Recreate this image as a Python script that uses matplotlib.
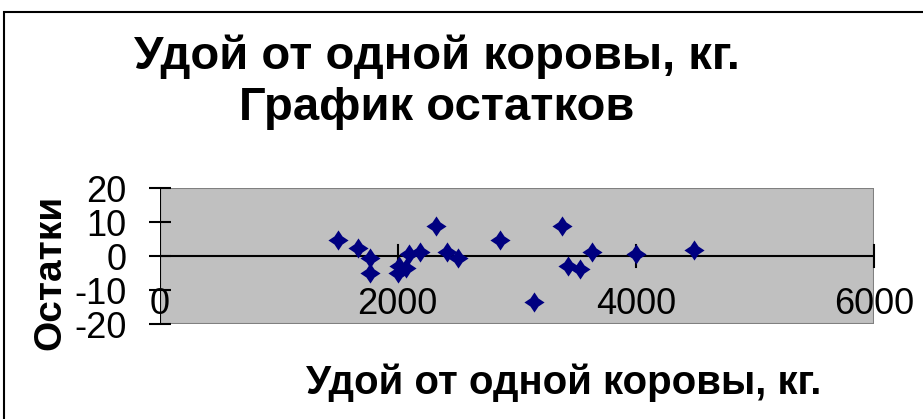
import matplotlib
matplotlib.use("Agg")
import matplotlib.pyplot as plt
from matplotlib.path import Path
from matplotlib.patches import Rectangle

plt.rcParams['font.family'] = ['Liberation Sans', 'DejaVu Sans']

# Milk yield per cow (kg) and regression residuals
yield_kg = [1498, 1667, 1770, 1770, 2000, 2014, 2073, 2093, 2185, 2323,
            2416, 2505, 2858, 3144, 3380, 3430, 3531, 3632, 4000, 4491]
residuals = [4.6, 2.4, -0.5, -4.9, -4.9, -3.0, -3.6, 0.7, 1.2, 8.8,
             1.2, -0.5, 4.6, -13.5, 8.8, -3.0, -3.7, 1.1, 0.5, 1.7]

x_ticks = [0, 2000, 4000, 6000]
x_tick_labels = ['0', '2000', '4000', '6000']
y_ticks = [-20, -10, 0, 10, 20]
y_tick_labels = ['-20', '-10', '0', '10', '20']

title = 'Удой от одной коровы, кг.\nГрафик остатков'
x_label = 'Удой от одной коровы, кг.'
y_label = 'Остатки'

W, H = 923, 419
fig = plt.figure(figsize=(W / 100, H / 100), dpi=100)

# outer chart frame (runs off the right and bottom edges)
fig.patches.append(Rectangle((4 / W, -0.05), 1.2, 1 - 12 / H + 0.05,
                             transform=fig.transFigure, fill=False,
                             edgecolor='black', linewidth=1.5))

ax = fig.add_axes([159.6 / W, 1 - 324 / H, (874 - 159.6) / W, (324 - 188) / H])
ax.set_facecolor('#C0C0C0')
for s in ('top', 'right', 'bottom', 'left'):
    ax.spines[s].set_visible(False)

ax.set_xlim(0, 6000)
ax.set_ylim(-20, 20)

# plot-area border
ax.add_patch(Rectangle((0, 0), 1, 1, transform=ax.transAxes, fill=False,
                       edgecolor='#808080', linewidth=1.5, zorder=1))

# axes lines crossing at the origin
ax.axhline(0, color='black', linewidth=1.5, zorder=2)
ax.axvline(0, color='black', linewidth=1.5, zorder=2)

# four-point diamond marker with slightly concave sides
k = 0.4
verts = [(0, 1), (k, k), (1, 0), (k, -k), (0, -1), (-k, -k), (-1, 0), (-k, k), (0, 1)]
codes = [Path.MOVETO] + [Path.LINETO] * 7 + [Path.CLOSEPOLY]
diamond = Path(verts, codes)

ax.plot(yield_kg, residuals, linestyle='none', marker=diamond,
        markersize=14.5, color='#000080', markeredgewidth=0, zorder=3,
        clip_on=False)

ax.set_xticks(x_ticks)
ax.set_yticks(y_ticks)
ax.set_yticklabels(y_tick_labels)
ax.tick_params(axis='both', direction='inout', length=16, width=1.5,
               color='black', labelsize=26)
ax.tick_params(axis='y', pad=16)

# x tick marks sit on the zero line; labels go below it
ax.set_xticklabels([])
for t in ax.xaxis.get_major_ticks():
    t.tick1line.set_visible(False)
for xt in x_ticks[1:]:
    ax.plot([xt, xt], [-3.3, 3.3], color='black', linewidth=1.5, zorder=2,
            clip_on=False)
for xt, lab in zip(x_ticks, x_tick_labels):
    ax.text(xt, -14.4, lab, ha='center', va='center', fontsize=26, zorder=4)

fig.text(437 / W, 1 - 82 / H, title, ha='center', va='center',
         fontsize=34, fontweight='bold', linespacing=1.2)
fig.text(564 / W, 1 - 383 / H, x_label, ha='center', va='center',
         fontsize=29, fontweight='bold')
fig.text(50 / W, 1 - 272 / H, y_label, ha='center', va='center',
         fontsize=28, fontweight='bold', rotation=90)

fig.savefig('out.png', dpi=100)
